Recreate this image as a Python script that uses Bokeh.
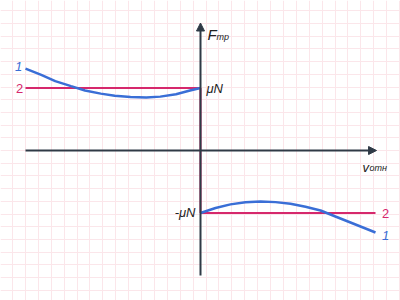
import numpy as np
from bokeh.plotting import figure
from bokeh.models import Range1d, Grid, FixedTicker, Arrow, NormalHead
from bokeh.core.properties import value
from bokeh.embed import file_html
from bokeh.resources import INLINE

# ---- data (v normalised to the axis length, F in units of muN) ----
mu_N = 1.0
# curve 1, negative relative velocity
v_neg = [-1.0, -0.91, -0.83, -0.74, -0.66, -0.57, -0.49, -0.40, -0.31, -0.23, -0.14, -0.06, 0.0]
F_neg = [1.31, 1.21, 1.11, 1.03, 0.96, 0.91, 0.875, 0.855, 0.848, 0.862, 0.90, 0.96, 1.0]
# curve 1, positive relative velocity
v_pos = [0.0, 0.086, 0.171, 0.257, 0.343, 0.429, 0.514, 0.60, 0.686, 0.771, 0.857, 0.943, 1.0]
F_pos = [-1.0, -0.92, -0.862, -0.827, -0.816, -0.826, -0.853, -0.90, -0.96, -1.056, -1.152, -1.248, -1.312]
# curve 2 (constant +-muN)
v2_neg = [-1.0, 0.0]
v2_pos = [0.0, 1.0]

BLUE = "#3a6ed6"
MAGENTA = "#d6286c"
AXIS = "#2f3a46"
GRID = "#fbe6ea"
FONT = value("Liberation Sans")

p = figure(width=400, height=300,
           x_range=Range1d(-200 / 175, 200 / 175),
           y_range=Range1d(-2.4, 2.4),
           output_backend="svg", toolbar_location=None,
           min_border=0, outline_line_color=None,
           x_axis_type=None, y_axis_type=None)
p.background_fill_color = "white"
p.border_fill_color = "white"

# background squared paper
xg = [(12 + 12.9 * k - 200) / 175 for k in range(32)]
yg = [12.7 * k / 62.5 for k in range(-13, 14)]
p.add_layout(Grid(dimension=0, ticker=FixedTicker(ticks=xg),
                  grid_line_color=GRID, grid_line_width=1))
p.add_layout(Grid(dimension=1, ticker=FixedTicker(ticks=yg),
                  grid_line_color=GRID, grid_line_width=1))

# axes with arrows
p.add_layout(Arrow(end=NormalHead(size=8, fill_color=AXIS, line_color=AXIS),
                   x_start=-1.0, y_start=0, x_end=1.006, y_end=0,
                   line_color=AXIS, line_width=2))
p.add_layout(Arrow(end=NormalHead(size=8, fill_color=AXIS, line_color=AXIS),
                   x_start=0, y_start=-2.0, x_end=0, y_end=2.04,
                   line_color=AXIS, line_width=2))

# curve 2
p.line(v2_neg, [mu_N, mu_N], line_color=MAGENTA, line_width=2)
p.line([0, 0], [mu_N, -mu_N], line_color=MAGENTA, line_width=2)
p.line(v2_pos, [-mu_N, -mu_N], line_color=MAGENTA, line_width=2)

# curve 1
p.line(v_neg, F_neg, line_color=BLUE, line_width=2.5)
p.line(v_pos, F_pos, line_color=BLUE, line_width=2.5)

# curve labels
p.text(x=[v_neg[0]], y=[F_neg[0]], text=["1"], x_offset=-7, y_offset=-2,
       text_align="center", text_baseline="middle", text_color=BLUE,
       text_font=FONT, text_font_style="italic", text_font_size="13px")
p.text(x=[v2_neg[0]], y=[mu_N], text=["2"], x_offset=-6, y_offset=0,
       text_align="center", text_baseline="middle", text_color=MAGENTA,
       text_font=FONT, text_font_size="13px")
p.text(x=[v2_pos[-1]], y=[-mu_N], text=["2"], x_offset=10, y_offset=0,
       text_align="center", text_baseline="middle", text_color=MAGENTA,
       text_font=FONT, text_font_size="13px")
p.text(x=[v_pos[-1]], y=[F_pos[-1]], text=["1"], x_offset=10, y_offset=3,
       text_align="center", text_baseline="middle", text_color=BLUE,
       text_font=FONT, text_font_style="italic", text_font_size="13px")

# level labels
p.text(x=[0], y=[mu_N], text=["μN"], x_offset=6, y_offset=0,
       text_align="left", text_baseline="middle", text_color="#222222",
       text_font=FONT, text_font_style="italic", text_font_size="13px")
p.text(x=[0], y=[-mu_N], text=["-μN"], x_offset=-5, y_offset=-1,
       text_align="right", text_baseline="middle", text_color="#222222",
       text_font=FONT, text_font_style="italic", text_font_size="13px")

# axis titles
p.text(x=[0], y=[2.04], text=["F"], x_offset=7, y_offset=11,
       text_align="left", text_baseline="alphabetic", text_color="#222222",
       text_font=FONT, text_font_style="italic", text_font_size="15px")
p.text(x=[0], y=[2.04], text=["тр"], x_offset=16, y_offset=14,
       text_align="left", text_baseline="alphabetic", text_color="#222222",
       text_font=FONT, text_font_style="italic", text_font_size="9px")
p.text(x=[1.006], y=[0], text=["v"], x_offset=-14, y_offset=17,
       text_align="left", text_baseline="alphabetic", text_color="#222222",
       text_font=FONT, text_font_style="italic", text_font_size="13px")
p.text(x=[1.006], y=[0], text=["отн"], x_offset=-7, y_offset=17,
       text_align="left", text_baseline="alphabetic", text_color="#222222",
       text_font=FONT, text_font_style="italic", text_font_size="9px")

open("out.html", "w").write(file_html(p, INLINE))
